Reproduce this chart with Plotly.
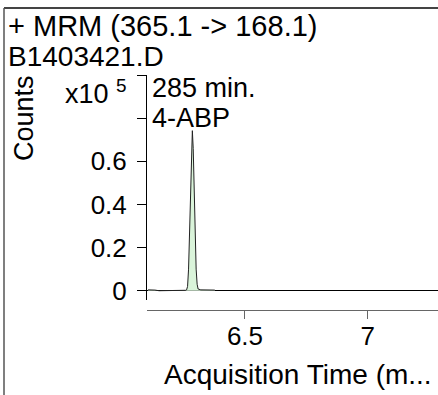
import plotly.graph_objects as go

# data (counts in units of x10^5)
times = [6.105, 6.120, 6.133, 6.150, 6.200, 6.240, 6.258, 6.262, 6.266, 6.270, 6.274, 6.278,
         6.282, 6.2855, 6.289, 6.293, 6.297, 6.301, 6.305, 6.309, 6.320, 6.350, 6.377]
counts = [0.004, 0.004, 0.003, 0.0, 0.0, 0.0, 0.002, 0.004, 0.02, 0.10, 0.27, 0.47,
          0.65, 0.742, 0.66, 0.46, 0.25, 0.10, 0.03, 0.008, 0.004, 0.004, 0.003]
y_tickvals = [0, 0.2, 0.4, 0.6]
y_ticktext = ["0", "0.2", "0.4", "0.6"]
y_tick_step = 0.2
x_tickvals = [6.5, 7.0]
x_ticktext = ["6.5", "7"]

W, H = 438, 395
L, R, T, B = 147, 0, 75, 85
PW, PH = W - L - R, H - T - B

def px(x):
    return (x - L) / PW

def py(y):
    return (H - B - y) / PH

FONT = "Liberation Sans, Arial, sans-serif"

fig = go.Figure()
fig.add_trace(go.Scatter(
    x=times, y=counts, mode="lines",
    line=dict(color="#222222", width=1),
    fill="tozeroy", fillcolor="rgb(218,244,218)",
    hoverinfo="skip", showlegend=False,
))

fig.update_layout(
    width=W, height=H,
    margin=dict(l=L, r=R, t=T, b=B, pad=0),
    paper_bgcolor="white", plot_bgcolor="white",
    font=dict(family=FONT, size=26, color="black"),
    xaxis=dict(
        range=[6.1007, 7.2865], anchor="free", position=0,
        tickvals=x_tickvals, ticktext=x_ticktext,
        ticks="outside", ticklen=8, tickcolor="#666666", tickwidth=1,
        showline=True, linecolor="#666666", linewidth=1,
        showgrid=False, zeroline=False,
        tickfont=dict(size=26), ticklabelstandoff=-5,
    ),
    yaxis=dict(
        domain=[10 / PH, 1], range=[-0.043, 1.0],
        tickvals=y_tickvals, ticktext=y_ticktext,
        ticks="outside", ticklen=9, tickcolor="black", tickwidth=1,
        minor=dict(tick0=0, dtick=y_tick_step, ticks="outside", ticklen=9,
                   tickcolor="black", tickwidth=1, showgrid=False),
        showline=True, linecolor="black", linewidth=1,
        showgrid=False, zeroline=True, zerolinecolor="black", zerolinewidth=1,
        tickfont=dict(size=26), ticklabelstandoff=5,
    ),
    shapes=[
        dict(type="line", xref="paper", yref="paper", x0=px(4), x1=px(W), y0=py(8), y1=py(8),
             line=dict(color="#444444", width=2)),
        dict(type="line", xref="paper", yref="paper", x0=px(4), x1=px(4), y0=py(8), y1=py(H),
             line=dict(color="#555555", width=1.5)),
    ],
)

def ann(text, x, y, xanchor="left", size=26, angle=0):
    fig.add_annotation(text=text, xref="paper", yref="paper", x=px(x), y=py(y),
                       xanchor=xanchor, yanchor="middle", showarrow=False,
                       textangle=angle, font=dict(size=size, family=FONT, color="black"))

ann("+ MRM (365.1 -&gt; 168.1)", 6, 26, size=29)
ann("B1403421.D", 6, 56, size=28)
ann("Counts", 24, 118, xanchor="center", size=27, angle=-90)
ann("x10 <sup>5</sup>", 129, 92, xanchor="right", size=27)
ann("285 min.", 150, 88, size=27)
ann("4-ABP", 150, 118, size=27)
ann("Acquisition Time (m...", 298, 374, xanchor="center", size=28)

fig.write_html(
    "out.html",
    config={"displayModeBar": False},
    post_script="document.body.style.margin='0';document.body.style.overflow='hidden';",
)
